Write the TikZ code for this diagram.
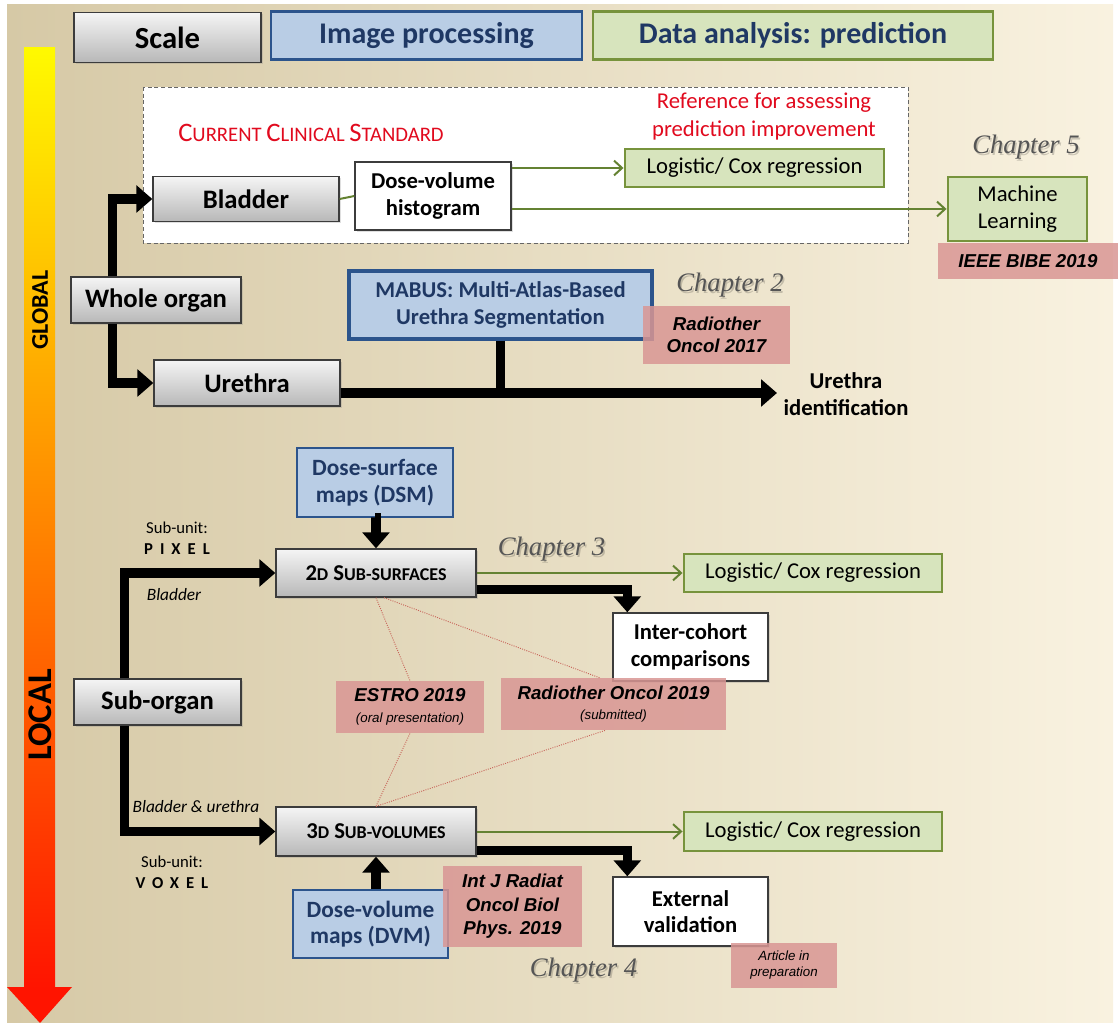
\documentclass[tikz,border=0pt]{standalone}
\usepackage{fontspec}
\setmainfont{Carlito}
\newfontfamily\arialf{Liberation Sans}
\newfontfamily\timesf{Liberation Serif}
\usetikzlibrary{arrows.meta,calc,shadows}
\definecolor{tanL}{RGB}{214,201,166}
\definecolor{tanR}{RGB}{249,242,224}
\definecolor{boxline}{RGB}{60,60,60}
\definecolor{bluefill}{RGB}{185,205,229}
\definecolor{blueline}{RGB}{44,84,140}
\definecolor{bluetext}{RGB}{31,56,100}
\definecolor{greenfill}{RGB}{215,228,189}
\definecolor{greenline}{RGB}{119,147,60}
\definecolor{greenarrow}{RGB}{100,130,50}
\definecolor{pinkfill}{RGB}{217,150,148}
\definecolor{redtext}{RGB}{225,10,30}
\definecolor{chapgray}{RGB}{85,85,85}
\definecolor{dotred}{RGB}{200,100,90}
\definecolor{arrowtop}{RGB}{255,250,0}
\definecolor{arrowbot}{RGB}{255,20,0}
\newcommand\fs[2]{\fontsize{#1}{#2}\selectfont}
\begin{document}
\begin{tikzpicture}[x=0.75pt,y=-0.75pt,
  sz/.style 2 args={minimum width=#1*0.75pt,minimum height=#2*0.75pt},
  base/.style={inner sep=0pt,align=center},
  graybox/.style={base,draw=boxline,line width=1pt,top color=white!96!black,bottom color=black!28,
    drop shadow={shadow xshift=1.5pt,shadow yshift=-1.5pt,opacity=0.25},font=\bfseries\fs{20}{23}},
  whitebox/.style={base,draw=boxline,line width=1pt,fill=white,
    drop shadow={shadow xshift=1.5pt,shadow yshift=-1.5pt,opacity=0.25},font=\bfseries\fs{17}{20}},
  bluebox/.style={base,draw=blueline,line width=1pt,fill=bluefill,text=bluetext,font=\bfseries\fs{17.5}{20}},
  greenbox/.style={base,draw=greenline,line width=2.2pt,fill=greenfill,font=\fs{17}{20.5}},
  pinkbox/.style={base,fill=pinkfill,fill opacity=0.85,text opacity=1,font=\arialf\bfseries\itshape\fs{14}{16.5}},
  chap/.style={font=\timesf\itshape\fs{20}{23},text=chapgray},
  chapsh/.style={font=\timesf\itshape\fs{20}{23},text=black,text opacity=0.18},
  blk/.style={line width=7pt,draw=black},
  blkarrow/.style={blk,-{Triangle[length=12pt,width=20pt]}},
  grn/.style={line width=1.5pt,draw=greenarrow,-{Straight Barb[length=6pt,width=11pt,line width=1.5pt]}},
  grnl/.style={line width=1.5pt,draw=greenarrow},
  dotl/.style={draw=dotred,line width=0.7pt,densely dotted},
  lab/.style={inner sep=0pt,align=center}
]
\useasboundingbox (0,0) rectangle (1118,1023);
\fill[white] (0,0) rectangle (1118,1023);
\shade[left color=tanL,right color=tanR] (7,5) rectangle (1113,1023);

% scale arrow
\shade[top color=arrowtop,bottom color=arrowbot] (24,48) rectangle (55,988);
\fill[arrowbot] (7,987) -- (72,987) -- (40,1023) -- cycle;
\node[rotate=90,font=\bfseries\fs{18}{21}] (glob) at (40,310) {GLOBAL};
\node[rotate=90,font=\bfseries\fs{26}{30}] (loc) at (40,715) {LOCAL};

% header
\node[graybox,sz={187}{50},font=\bfseries\fs{23}{26}] (scale) at (167.5,37.5) {Scale};
\node[bluebox,sz={311}{48},line width=2.2pt,font=\bfseries\fs{22.5}{26}] (imgp) at (426.5,35.5) {Image processing};
\node[greenbox,sz={400}{48},text=bluetext,font=\bfseries\fs{22.5}{26}] (data) at (793,35.5) {Data analysis: prediction};

% clinical standard frame
\draw[black!60,densely dashed,line width=0.6pt,fill=white] (143,87) rectangle (908,243);
\node[lab,anchor=west,text=redtext] (ccs) at (178,133) {{\fs{20}{22}C}{\fs{15.5}{18}URRENT }{\fs{20}{22}C}{\fs{15.5}{18}LINICAL }{\fs{20}{22}S}{\fs{15.5}{18}TANDARD}};
\node[lab,text=redtext,font=\fs{17}{21}] (refp) at (764,117) {Reference for assessing\\prediction improvement};

\node[graybox,sz={186}{45}] (bladder) at (246,199) {Bladder};
\node[whitebox,sz={156}{68}] (dvh) at (433,196) {Dose-volume\\histogram};
\node[greenbox,sz={259}{38}] (log1) at (754.5,168) {Logistic/ Cox regression};
\node[greenbox,sz={139}{64}] (ml) at (1017.5,209) {Machine\\Learning};
\node[pinkbox,sz={180}{36}] (ieee) at (1028,261) {IEEE BIBE 2019};
\node[chapsh] at (1027.5,149) {Chapter 5};
\node[chap] (ch5) at (1026,147) {Chapter 5};

\draw[grnl] (bladder.east) -- (dvh.west);
\draw[grn] (dvh.east |- log1.west) -- (log1.west);
\draw[grn] (dvh.east |- ml.west) -- (ml.west);

% whole organ
\node[graybox,sz={170}{46}] (whole) at (156,300) {Whole organ};
\node[graybox,sz={186}{46}] (urethra) at (247,383) {Urethra};
\node[bluebox,sz={303}{68},line width=2.4pt,font=\bfseries\fs{17}{20}] (mabus) at (500.5,305) {MABUS: Multi-Atlas-Based\\Urethra Segmentation};
\node[pinkbox,sz={147}{58}] (rad17) at (716.5,335) {Radiother\\Oncol 2017};
\node[chapsh] at (731.5,287) {Chapter 2};
\node[chap] (ch2) at (730,285) {Chapter 2};

\draw[blkarrow] ($(whole.north west)+(42,0)$) |- (bladder.west);
\draw[blkarrow] ($(whole.south west)+(42,0)$) |- (urethra.west);
\coordinate (uend) at (777,393);
\draw[blkarrow] (urethra.east |- uend) -- (uend);
\draw[blk] (mabus.south) -- (mabus.south |- uend);
\node[lab,font=\bfseries\fs{17}{20}] (uid) at (846,394) {Urethra\\identification};

% local part
\node[bluebox,sz={156}{69}] (dsm) at (375,482.5) {Dose-surface\\maps (DSM)};
\node[graybox,sz={200}{48},font=\bfseries\fs{17}{20}] (sub2d) at (376,573) {2{\fs{13.5}{16}D} S{\fs{13.5}{16}UB-SURFACES}};
\node[greenbox,sz={258}{38}] (log2) at (813,573) {Logistic/ Cox regression};
\node[whitebox,sz={155}{68}] (inter) at (690.5,647) {Inter-cohort\\comparisons};
\node[chapsh] at (553,551) {Chapter 3};
\node[chap] (ch3) at (551.5,549) {Chapter 3};

\node[graybox,sz={167}{46}] (suborgan) at (157.5,702) {Sub-organ};
\node[pinkbox,sz={148}{52}] (estro) at (410,707) {ESTRO 2019\\[-1pt]{\arialf\mdseries\itshape\fs{10}{12}(oral presentation)}};
\node[pinkbox,sz={225}{52}] (rad19) at (613.5,704) {Radiother Oncol 2019\\[-1pt]{\arialf\mdseries\itshape\fs{10}{12}(submitted)}};

\node[graybox,sz={200}{49},font=\bfseries\fs{17}{20}] (sub3d) at (376,831.5) {3{\fs{13.5}{16}D} S{\fs{13.5}{16}UB-VOLUMES}};
\node[greenbox,sz={258}{39}] (log3) at (813,831.5) {Logistic/ Cox regression};
\node[bluebox,sz={155}{68}] (dvm) at (370.5,924) {Dose-volume\\maps (DVM)};
\node[pinkbox,sz={139}{81},font=\arialf\bfseries\itshape\fs{14}{17.5}] (intj) at (512.5,906.5) {Int J Radiat\\Oncol Biol\\Phys. 2019};
\node[whitebox,sz={155}{69}] (ext) at (690.5,911.5) {External\\validation};
\node[pinkbox,sz={106}{45},font=\arialf\mdseries\itshape\fs{10}{12}] (art) at (784,965.5) {Article in\\preparation};
\node[chapsh] at (585,972) {Chapter 4};
\node[chap] (ch4) at (583.5,970) {Chapter 4};

% side labels
\node[lab,font=\fs{12.5}{15}] (su1) at (177,538) {Sub-unit:\\[1pt]{\bfseries\addfontfeature{LetterSpace=42}PIXEL}};
\node[lab,font=\itshape\fs{13}{15}] (bl) at (174,595) {Bladder};
\node[lab,font=\itshape\fs{13}{15}] (blu) at (196,807) {Bladder \& urethra};
\node[lab,font=\fs{12.5}{15}] (su2) at (172,872) {Sub-unit:\\[1pt]{\bfseries\addfontfeature{LetterSpace=42}VOXEL}};

% connectors local
\draw[blkarrow] (dsm.south) -- (dsm.south -| sub2d.north) -- (sub2d.north);
\draw[blkarrow] ($(suborgan.north west)+(51,0)$) |- (sub2d.west);
\draw[blkarrow] ($(suborgan.south west)+(51,0)$) |- (sub3d.west);
\draw[blkarrow] (dvm.north -| sub3d.south) -- (sub3d.south);
\draw[blkarrow] ($(sub2d.south east)+(0,-8)$) -| ($(inter.north west)+(15,0)$);
\draw[blkarrow] ($(sub3d.south east)+(0,-6)$) -| ($(ext.north west)+(15,0)$);
\draw[grn] (sub2d.east |- log2.west) -- (log2.west);
\draw[grn] (sub3d.east |- log3.west) -- (log3.west);

\draw[dotl] (sub2d.south) -- (estro.north);
\draw[dotl] ($(sub2d.south)+(8,0)$) -- ($(rad19.north)+(-14,0)$);
\draw[dotl] (sub3d.north) -- (estro.south);
\draw[dotl] (sub3d.north) -- ($(rad19.south)+(-8,0)$);
\end{tikzpicture}
\end{document}
